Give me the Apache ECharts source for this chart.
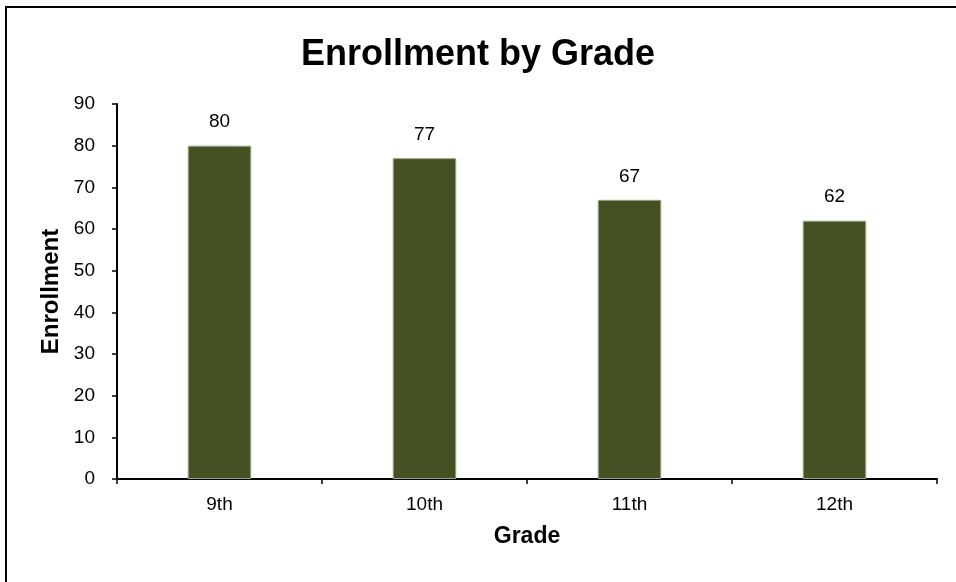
<!DOCTYPE html>
<html><head><meta charset="utf-8">
<script src="https://cdn.jsdelivr.net/npm/echarts@6/dist/echarts.min.js"></script>
<style>html,body{margin:0;padding:0;background:#fff}#c{width:956px;height:582px}</style>
</head><body><div id="c"></div>
<script>
const categories = ['9th', '10th', '11th', '12th'];
const enrollment = [80, 77, 67, 62];
const yTicks = [0, 10, 20, 30, 40, 50, 60, 70, 80, 90];

const font = '"Liberation Sans", Arial, sans-serif';
const chart = echarts.init(document.getElementById('c'), null, {renderer: 'canvas'});
chart.setOption({
  animation: false,
  backgroundColor: '#fff',
  graphic: [{
    type: 'rect', shape: {x: 6, y: 7, width: 1200, height: 1200},
    style: {fill: 'none', stroke: '#000', lineWidth: 2}, silent: true
  }],
  title: {
    text: 'Enrollment by Grade', left: 'center', top: 32,
    textStyle: {fontFamily: font, fontSize: 36, fontWeight: 'bold', color: '#000'}
  },
  grid: {left: 117, right: 19, top: 104, bottom: 103, containLabel: false},
  xAxis: {
    type: 'category', data: categories,
    name: 'Grade', nameLocation: 'middle', nameGap: 46,
    nameTextStyle: {fontFamily: font, fontSize: 23, fontWeight: 'bold', color: '#000'},
    axisLine: {lineStyle: {color: '#000', width: 2}},
    axisTick: {show: true, length: 5, lineStyle: {color: '#000', width: 1.5}},
    axisLabel: {fontFamily: font, fontSize: 19, color: '#000', margin: 16}
  },
  yAxis: {
    type: 'value', min: 0, max: 90, interval: 10,
    name: 'Enrollment', nameLocation: 'middle', nameGap: 53, nameRotate: 90,
    nameTextStyle: {fontFamily: font, fontSize: 24, fontWeight: 'bold', color: '#000'},
    axisLine: {show: true, lineStyle: {color: '#000', width: 2}},
    axisTick: {show: true, length: 5, lineStyle: {color: '#000', width: 1.5}},
    axisLabel: {fontFamily: font, fontSize: 19, color: '#000', margin: 22,
      formatter: v => yTicks.includes(v) ? String(v) : ''},
    splitLine: {show: false}
  },
  series: [{
    type: 'bar', data: enrollment, barWidth: '31%',
    itemStyle: {color: '#435123', borderColor: '#9ba784', borderWidth: 1},
    label: {show: true, position: 'top', distance: 14, fontFamily: font, fontSize: 19, color: '#000'}
  }]
});
</script></body></html>
